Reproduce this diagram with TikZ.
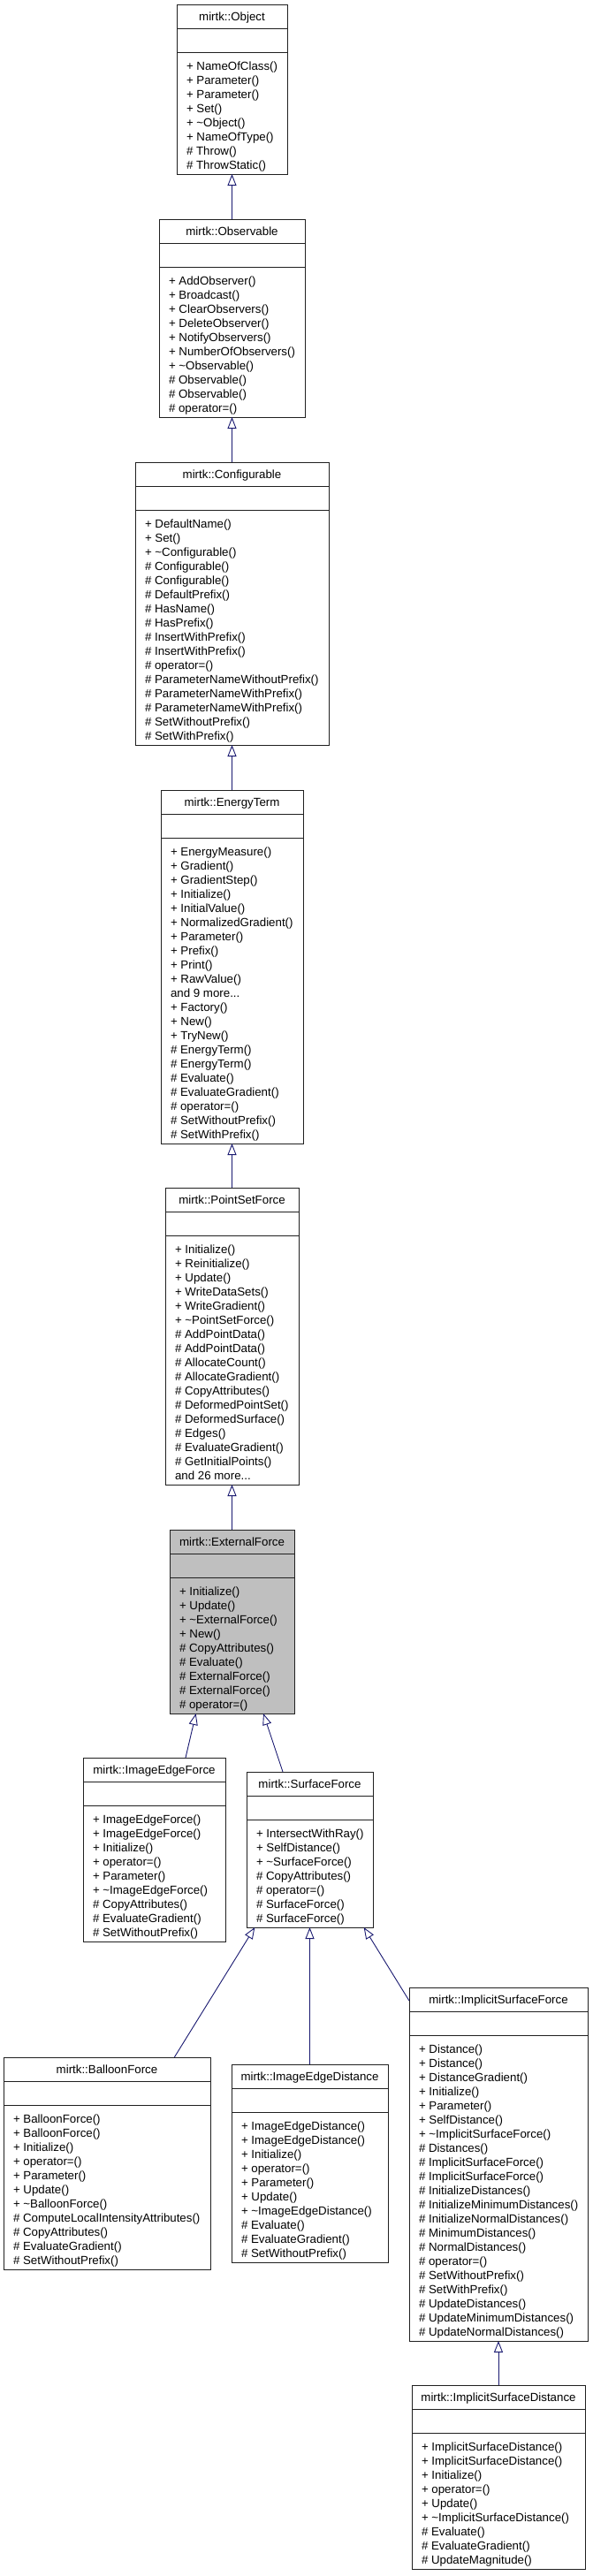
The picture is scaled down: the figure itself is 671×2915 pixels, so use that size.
\documentclass[tikz,border=0pt]{standalone}
\usepackage{fontspec}
\setmainfont{Liberation Sans}
\usetikzlibrary{arrows.meta}
\definecolor{edgecol}{HTML}{191970}
\definecolor{boxcol}{HTML}{202020}
\definecolor{hilite}{HTML}{BFBFBF}
\tikzset{
  classrect/.style={draw=boxcol, line width=0.9bp, rectangle, inner sep=0pt, outer sep=0pt, anchor=north west},
  divline/.style={draw=boxcol, line width=0.9bp},
  umltext/.style={inner sep=0pt, outer sep=0pt, font=\fontsize{13.3bp}{16bp}\selectfont, text=black},
  memtext/.style={umltext, anchor=base west},
  titletext/.style={umltext, anchor=base},
  inherit/.style={draw=edgecol, line width=0.9bp, -{Triangle[open, length=13bp, width=10bp]}}
}
% #1 name, #2 left, #3 right, #4 top, #5 number of members, #6 fill, #7 title, #8 members
\newcommand\umlclass[8]{%
  \node[classrect, fill=#6, minimum width={(#3-#2)*1bp}, minimum height={(64+16*#5)*1bp}] (#1) at (#2,#4) {};
  \draw[divline] (#2,{#4+27}) -- (#3,{#4+27});
  \draw[divline] (#2,{#4+54}) -- (#3,{#4+54});
  \node[titletext] (#1-t) at ({(#2+#3)/2},{#4+18.5}) {#7};
  \foreach \m [count=\i] in {#8} {
    \node[memtext] (#1-m\i) at ({#2+11},{#4+54+20+16*(\i-1)}) {\m};
  }%
}
\newcommand\tld{\textasciitilde}
\newcommand\threedots{...}
\begin{document}
\begin{tikzpicture}[x=1bp, y=-1bp]
\useasboundingbox (0,0) rectangle (671,2915);

\umlclass{obj}{200}{325}{5}{8}{white}{mirtk::Object}{%
+ NameOfClass(), + Parameter(), + Parameter(), + Set(), + \tld Object(), + NameOfType(), \# Throw(), \# ThrowStatic()}

\umlclass{obs}{180}{345}{248}{10}{white}{mirtk::Observable}{%
+ AddObserver(), + Broadcast(), + ClearObservers(), + DeleteObserver(), + NotifyObservers(), + NumberOfObservers(), + \tld Observable(), \# Observable(), \# Observable(), \# operator=()}

\umlclass{cfg}{153}{372}{523}{16}{white}{mirtk::Configurable}{%
+ DefaultName(), + Set(), + \tld Configurable(), \# Configurable(), \# Configurable(), \# DefaultPrefix(), \# HasName(), \# HasPrefix(), \# InsertWithPrefix(), \# InsertWithPrefix(), \# operator=(), \# ParameterNameWithoutPrefix(), \# ParameterNameWithPrefix(), \# ParameterNameWithPrefix(), \# SetWithoutPrefix(), \# SetWithPrefix()}

\umlclass{et}{182}{343}{894}{21}{white}{mirtk::EnergyTerm}{%
+ EnergyMeasure(), + Gradient(), + GradientStep(), + Initialize(), + InitialValue(), + NormalizedGradient(), + Parameter(), + Prefix(), + Print(), + RawValue(), and 9 more\threedots, + Factory(), + New(), + TryNew(), \# EnergyTerm(), \# EnergyTerm(), \# Evaluate(), \# EvaluateGradient(), \# operator=(), \# SetWithoutPrefix(), \# SetWithPrefix()}

\umlclass{psf}{187}{338}{1344}{17}{white}{mirtk::PointSetForce}{%
+ Initialize(), + Reinitialize(), + Update(), + WriteDataSets(), + WriteGradient(), + \tld PointSetForce(), \# AddPointData(), \# AddPointData(), \# AllocateCount(), \# AllocateGradient(), \# CopyAttributes(), \# DeformedPointSet(), \# DeformedSurface(), \# Edges(), \# EvaluateGradient(), \# GetInitialPoints(), and 26 more\threedots}

\umlclass{ef}{192}{333}{1731}{9}{hilite}{mirtk::ExternalForce}{%
+ Initialize(), + Update(), + \tld ExternalForce(), + New(), \# CopyAttributes(), \# Evaluate(), \# ExternalForce(), \# ExternalForce(), \# operator=()}

\umlclass{ief}{94}{255}{1989}{9}{white}{mirtk::ImageEdgeForce}{%
+ ImageEdgeForce(), + ImageEdgeForce(), + Initialize(), + operator=(), + Parameter(), + \tld ImageEdgeForce(), \# CopyAttributes(), \# EvaluateGradient(), \# SetWithoutPrefix()}

\umlclass{sf}{279}{422}{2005}{7}{white}{mirtk::SurfaceForce}{%
+ IntersectWithRay(), + SelfDistance(), + \tld SurfaceForce(), \# CopyAttributes(), \# operator=(), \# SurfaceForce(), \# SurfaceForce()}

\umlclass{bf}{4}{238}{2328}{11}{white}{mirtk::BalloonForce}{%
+ BalloonForce(), + BalloonForce(), + Initialize(), + operator=(), + Parameter(), + Update(), + \tld BalloonForce(), \# ComputeLocalIntensityAttributes(), \# CopyAttributes(), \# EvaluateGradient(), \# SetWithoutPrefix()}

\umlclass{ied}{262}{439}{2336}{10}{white}{mirtk::ImageEdgeDistance}{%
+ ImageEdgeDistance(), + ImageEdgeDistance(), + Initialize(), + operator=(), + Parameter(), + Update(), + \tld ImageEdgeDistance(), \# Evaluate(), \# EvaluateGradient(), \# SetWithoutPrefix()}

\umlclass{isf}{463}{665}{2249}{21}{white}{mirtk::ImplicitSurfaceForce}{%
+ Distance(), + Distance(), + DistanceGradient(), + Initialize(), + Parameter(), + SelfDistance(), + \tld ImplicitSurfaceForce(), \# Distances(), \# ImplicitSurfaceForce(), \# ImplicitSurfaceForce(), \# InitializeDistances(), \# InitializeMinimumDistances(), \# InitializeNormalDistances(), \# MinimumDistances(), \# NormalDistances(), \# operator=(), \# SetWithoutPrefix(), \# SetWithPrefix(), \# UpdateDistances(), \# UpdateMinimumDistances(), \# UpdateNormalDistances()}

\umlclass{isd}{466}{662}{2699}{9}{white}{mirtk::ImplicitSurfaceDistance}{%
+ ImplicitSurfaceDistance(), + ImplicitSurfaceDistance(), + Initialize(), + operator=(), + Update(), + \tld ImplicitSurfaceDistance(), \# Evaluate(), \# EvaluateGradient(), \# UpdateMagnitude()}

% connector end points on the box borders
\coordinate (ef-a) at (221.7,1939);
\coordinate (ef-b) at (298,1939);
\coordinate (ief-top) at (210,1989);
\coordinate (sf-top) at (320,2005);
\coordinate (sf-a) at (288.3,2181);
\coordinate (sf-c) at (411.7,2181);
\coordinate (bf-top) at (197.3,2328);
\coordinate (isf-side) at (463,2264);

\draw[inherit] (obs.north) -- (obj.south);
\draw[inherit] (cfg.north) -- (obs.south);
\draw[inherit] (et.north) -- (cfg.south);
\draw[inherit] (psf.north) -- (et.south);
\draw[inherit] (ef.north) -- (psf.south);
\draw[inherit] (ief-top) -- (ef-a);
\draw[inherit] (sf-top) -- (ef-b);
\draw[inherit] (bf-top) -- (sf-a);
\draw[inherit] (ied.north) -- (sf.south);
\draw[inherit] (isf-side) -- (sf-c);
\draw[inherit] (isd.north) -- (isf.south);
\end{tikzpicture}
\end{document}
